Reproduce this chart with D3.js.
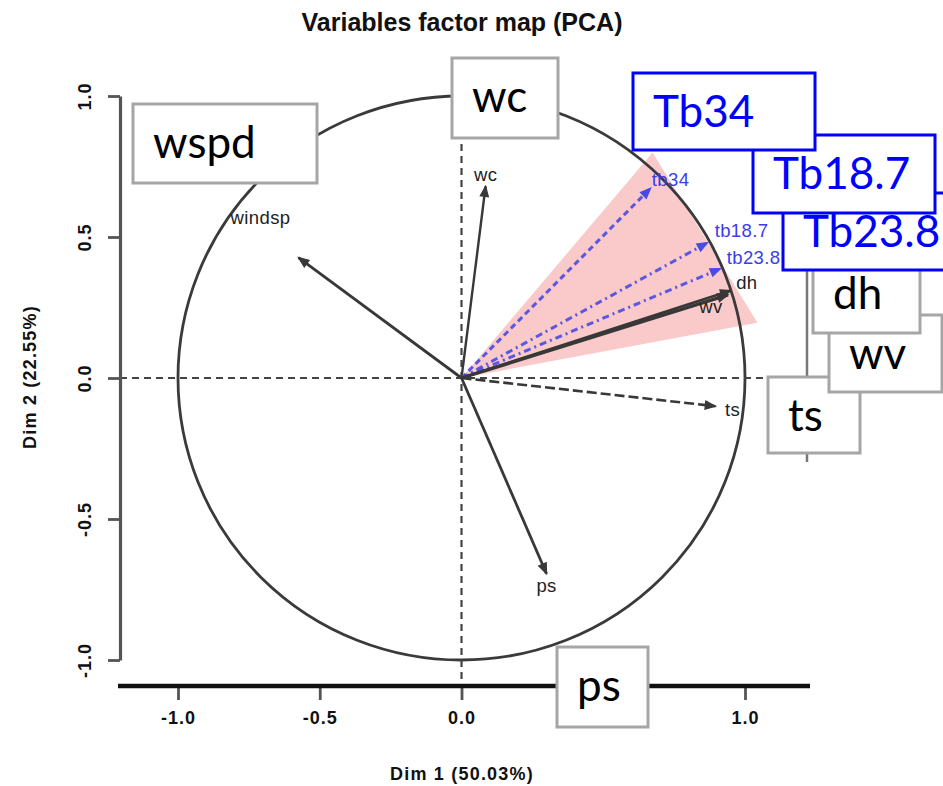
<!DOCTYPE html>
<html>
<head>
<meta charset="utf-8">
<title>Variables factor map (PCA)</title>
<script src="https://d3js.org/d3.v7.min.js"></script>
<style>
  body { margin: 0; background: #fff; }
</style>
</head>
<body>
<svg id="chart" width="943" height="786"></svg>
<script>
// ---- data ----
var varNames = ["windsp", "wc", "tb34", "tb18.7", "tb23.8", "dh", "wv", "ts", "ps"];
var dim1 = [-0.575, 0.085, 0.667, 0.868, 0.914, 0.950, 0.940, 0.896, 0.300];
var dim2 = [0.427, 0.680, 0.673, 0.480, 0.388, 0.310, 0.295, -0.100, -0.694];
var isTb = [false, false, true, true, true, false, false, false, false];

// pink cone around the Tb variables
var coneX = [0, 0.674, 1.044];
var coneY = [0, 0.800, 0.196];

var xTicks = [-1.0, -0.5, 0.0, 0.5, 1.0];
var yTicks = [-1.0, -0.5, 0.0, 0.5, 1.0];
var xTitle = "Dim 1 (50.03%)";
var yTitle = "Dim 2 (22.55%)";
var title = "Variables factor map (PCA)";

// callout boxes pasted over the plot (drawn bottom to top)
var boxText = ["ts", "wv", "dh", "Tb23.8", "Tb18.7", "Tb34", "wspd", "wc", "ps"];
var boxBlue = [false, false, false, true, true, true, false, false, false];

// ---- layout / style ----
var boxPos = {
  "ts":     [768, 377, 92, 76],
  "wv":     [829, 315, 113, 77],
  "dh":     [813, 255, 107, 78],
  "Tb23.8": [783, 193, 190, 77],
  "Tb18.7": [753, 135, 182, 78],
  "Tb34":   [633, 73, 182, 77],
  "wspd":   [133, 104, 184, 79],
  "wc":     [452, 58, 106, 80],
  "ps":     [557, 647, 91, 80]
};
var lineStyle = {
  "windsp": { dash: null, w: 2.8 },
  "wc":     { dash: null, w: 2.4 },
  "tb34":   { dash: "6,4", w: 3 },
  "tb18.7": { dash: "7,4,2,4", w: 3 },
  "tb23.8": { dash: "7,4,2,4", w: 3 },
  "dh":     { dash: null, w: 2.6 },
  "wv":     { dash: null, w: 3.4 },
  "ts":     { dash: "10,4", w: 2.6 },
  "ps":     { dash: null, w: 2.8 }
};
var lblOff = {
  "windsp": [-38, -40], "wc": [0, -12], "tb34": [20, -9], "tb18.7": [34, -12],
  "tb23.8": [33, -11], "dh": [16, -8], "wv": [-17, 12], "ts": [17, 3], "ps": [0, 12]
};

var svg = d3.select("#chart");
var x = d3.scaleLinear().domain([-1, 1]).range([178, 745]);
var y = d3.scaleLinear().domain([-1, 1]).range([660, 96]);

var data = varNames.map(function(n, i) {
  return { name: n, x: dim1[i], y: dim2[i], tb: isTb[i] };
});

// cone
svg.append("polygon")
  .attr("points", coneX.map(function(v, i) { return x(v) + "," + y(coneY[i]); }).join(" "))
  .attr("fill", "#f7a6a6")
  .attr("fill-opacity", 0.6);

// unit circle
svg.append("ellipse")
  .attr("cx", x(0)).attr("cy", y(0))
  .attr("rx", x(1) - x(0)).attr("ry", y(-1) - y(0))
  .attr("fill", "none")
  .attr("stroke", "#3a3a3a")
  .attr("stroke-width", 2.8);

// zero lines
svg.append("line")
  .attr("x1", 120).attr("x2", 810).attr("y1", y(0)).attr("y2", y(0))
  .attr("stroke", "#444").attr("stroke-width", 2.2).attr("stroke-dasharray", "7,5");
svg.append("line")
  .attr("x1", x(0)).attr("x2", x(0)).attr("y1", 60).attr("y2", 686)
  .attr("stroke", "#444").attr("stroke-width", 2.2).attr("stroke-dasharray", "7,5");

// arrows
var g = svg.append("g");
data.forEach(function(d) {
  var col = d.tb ? "#4a4ae6" : "#383838";
  var st = lineStyle[d.name];
  var x0 = x(0), y0 = y(0), x1 = x(d.x), y1 = y(d.y);
  var ang = Math.atan2(y1 - y0, x1 - x0);
  var len = 11, spread = 0.38;
  g.append("line")
    .attr("x1", x0).attr("y1", y0).attr("x2", x1).attr("y2", y1)
    .attr("stroke", col)
    .attr("stroke-width", st.w)
    .attr("stroke-dasharray", st.dash)
    .attr("stroke-opacity", d.tb ? 0.9 : 1);
  var p = [
    [x1, y1],
    [x1 - len * Math.cos(ang - spread), y1 - len * Math.sin(ang - spread)],
    [x1 - len * Math.cos(ang + spread), y1 - len * Math.sin(ang + spread)]
  ];
  g.append("path")
    .attr("d", "M" + p.join("L") + "Z")
    .attr("fill", col)
    .attr("stroke", col)
    .attr("stroke-width", 1.2);
  var o = lblOff[d.name];
  g.append("text")
    .attr("x", x1 + o[0]).attr("y", y1 + o[1])
    .attr("text-anchor", "middle")
    .attr("dominant-baseline", "central")
    .attr("font-family", "Liberation Sans, Arial, sans-serif")
    .attr("font-size", 18.5)
    .attr("letter-spacing", "0.4px")
    .attr("fill", d.tb ? "#3b3bf0" : "#222")
    .text(d.name);
});

// y axis
var yAxis = svg.append("g")
  .attr("transform", "translate(120,0)")
  .call(d3.axisLeft(y).tickValues(yTicks).tickSize(12).tickSizeOuter(0)
    .tickFormat(function(d) { return d.toFixed(1); }));
yAxis.select(".domain").attr("stroke", "#555").attr("stroke-width", 3.2);
yAxis.selectAll(".tick line").attr("stroke", "#555").attr("stroke-width", 2.8);
yAxis.selectAll(".tick text")
  .attr("transform", "rotate(-90)")
  .attr("x", 0).attr("y", -29).attr("dy", 0)
  .attr("text-anchor", "middle")
  .attr("font-family", "Liberation Sans, Arial, sans-serif")
  .attr("font-weight", "bold")
  .attr("font-size", 18)
  .attr("letter-spacing", "1px")
  .attr("fill", "#111");

// x axis
var xAxis = svg.append("g")
  .attr("transform", "translate(0,686)")
  .call(d3.axisBottom(x).tickValues(xTicks).tickSize(14).tickSizeOuter(0)
    .tickFormat(function(d) { return d.toFixed(1); }));
xAxis.select(".domain").remove();
xAxis.append("line")
  .attr("x1", 118).attr("x2", 810).attr("y1", 0).attr("y2", 0)
  .attr("stroke", "#111").attr("stroke-width", 4.5);
xAxis.selectAll(".tick line").attr("stroke", "#555").attr("stroke-width", 2.8);
xAxis.selectAll(".tick text")
  .attr("y", 32).attr("dy", "0.35em")
  .attr("font-family", "Liberation Sans, Arial, sans-serif")
  .attr("font-weight", "bold")
  .attr("font-size", 18)
  .attr("letter-spacing", "1px")
  .attr("fill", "#111");

// titles
svg.append("text")
  .attr("x", 462).attr("y", 31)
  .attr("text-anchor", "middle")
  .attr("font-family", "Liberation Sans, Arial, sans-serif")
  .attr("font-weight", "bold").attr("font-size", 25)
  .attr("fill", "#111")
  .text(title);
svg.append("text")
  .attr("x", 462).attr("y", 780)
  .attr("text-anchor", "middle")
  .attr("font-family", "Liberation Sans, Arial, sans-serif")
  .attr("font-weight", "bold").attr("font-size", 18)
  .attr("letter-spacing", "1.2px")
  .attr("fill", "#111")
  .text(xTitle);
svg.append("text")
  .attr("transform", "translate(36,377) rotate(-90)")
  .attr("text-anchor", "middle")
  .attr("font-family", "Liberation Sans, Arial, sans-serif")
  .attr("font-weight", "bold").attr("font-size", 18)
  .attr("letter-spacing", "1.2px")
  .attr("fill", "#111")
  .text(yTitle);

// stray frame line behind the right-hand callouts
svg.append("line")
  .attr("x1", 807).attr("x2", 807).attr("y1", 262).attr("y2", 462)
  .attr("stroke", "#777").attr("stroke-width", 2.5);

// callout boxes
var boxes = svg.append("g");
boxText.forEach(function(t, i) {
  var b = boxPos[t];
  var col = boxBlue[i] ? "#0000ff" : "#a6a6a6";
  boxes.append("rect")
    .attr("x", b[0]).attr("y", b[1]).attr("width", b[2]).attr("height", b[3])
    .attr("fill", "#fff")
    .attr("stroke", col)
    .attr("stroke-width", 3);
  boxes.append("text")
    .attr("x", b[0] + 20).attr("y", b[1] + 54)
    .attr("font-family", "Lato, Open Sans, sans-serif")
    .attr("font-size", 44)
    .attr("fill", boxBlue[i] ? "#0000ff" : "#000")
    .text(t);
});
</script>
</body>
</html>
